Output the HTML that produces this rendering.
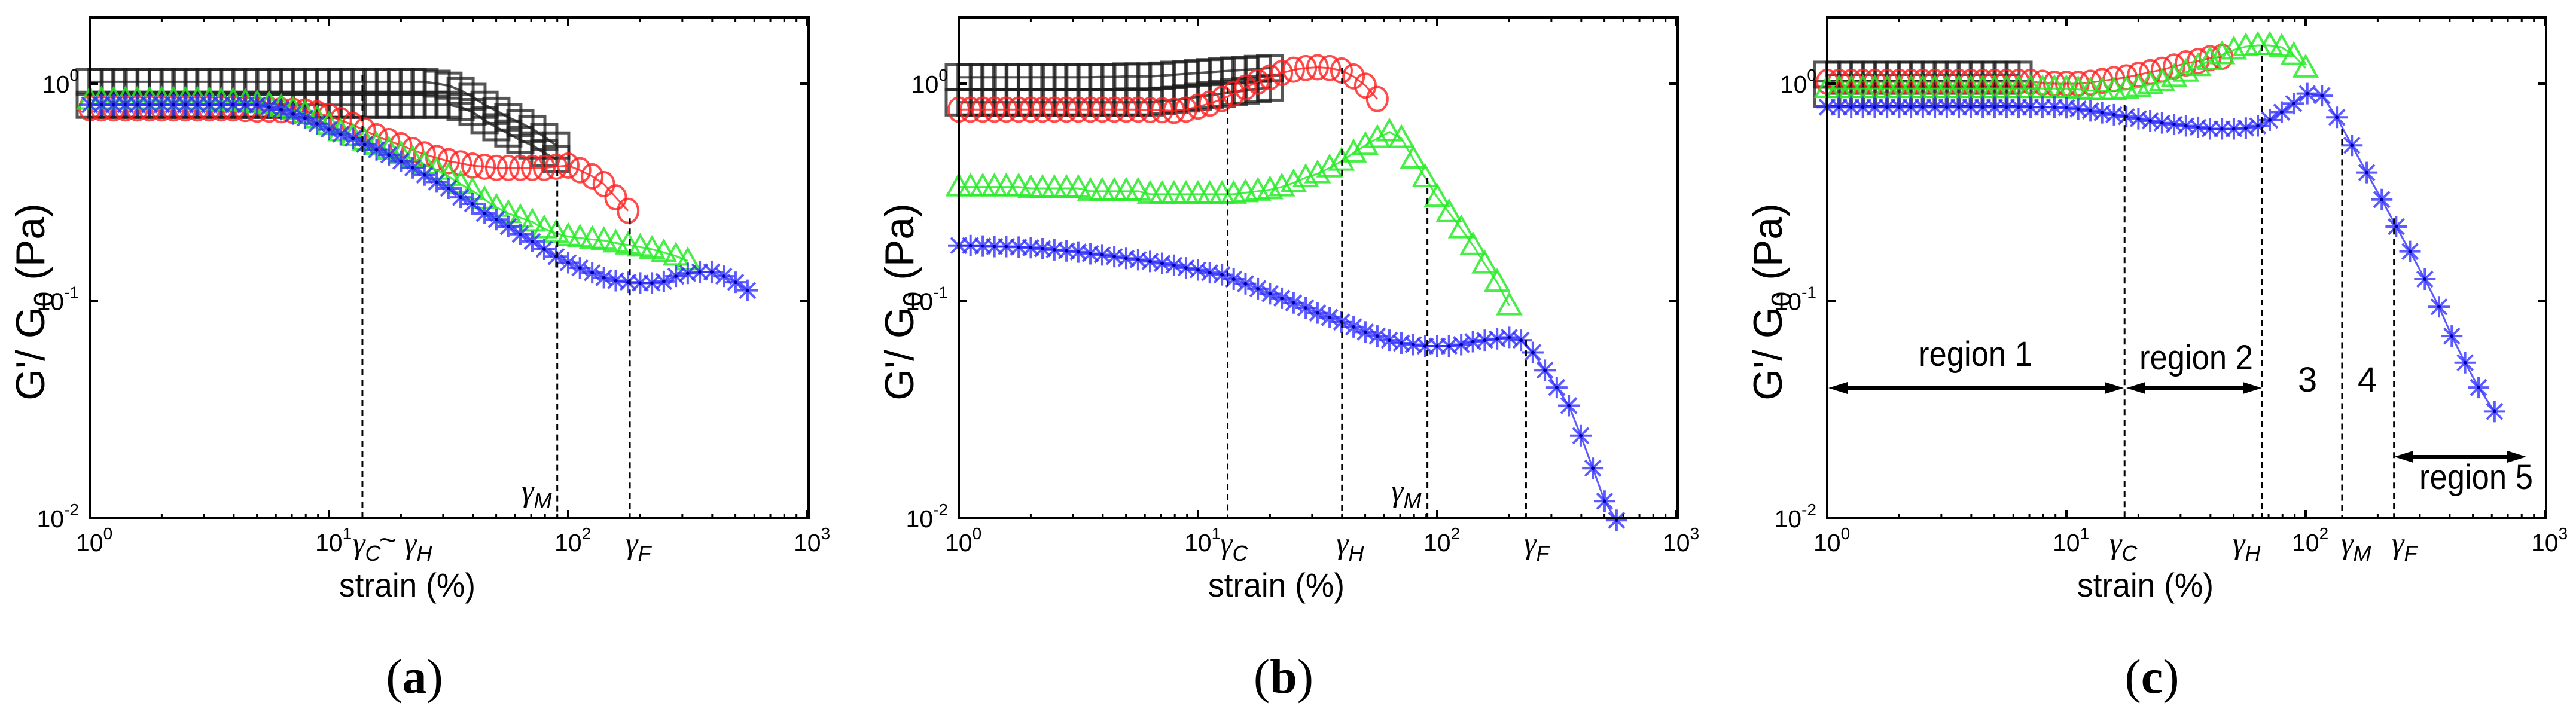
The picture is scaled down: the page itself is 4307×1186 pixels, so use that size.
<!DOCTYPE html>
<html><head><meta charset="utf-8"><title>G'/G0 vs strain</title>
<style>
html,body{margin:0;padding:0;background:#fff;}
svg{display:block;}
</style></head>
<body>
<svg id="fig" xmlns="http://www.w3.org/2000/svg" width="4307" height="1186" viewBox="0 0 4307 1186"></svg>
<script>
// ---------- data ----------
const strainGrid = [1.00,1.12,1.26,1.41,1.58,1.78,2.00,2.24,2.51,2.82,3.16,3.55,3.98,4.47,5.01,5.62,6.31,7.08,7.94,8.91,10.0,11.2,12.6,14.1,15.8,17.8,20.0,22.4,25.1,28.2,31.6,35.5,39.8,44.7,50.1,56.2,63.1,70.8,79.4,89.1,100,112,126,141,158,178,200,224,251,282,316,355,398,447,501,562,631];
const tickExponents = [0,1,2,3];
const yTickExponents = [-2,-1,0];

// panel (a)
const aBlackUpper = [1.02,1.02,1.02,1.02,1.02,1.02,1.02,1.02,1.02,1.02,1.02,1.02,1.02,1.02,1.02,1.02,1.02,1.02,1.02,1.02,1.02,1.02,1.02,1.02,1.02,1.02,1.02,1.02,1.02,1.0,0.98,0.93,0.87,0.80,0.75,0.70,0.66,0.62,0.57,0.52];
const aBlackLower = [0.80,0.80,0.80,0.80,0.80,0.80,0.80,0.80,0.80,0.80,0.80,0.80,0.80,0.80,0.80,0.80,0.80,0.80,0.80,0.80,0.80,0.80,0.80,0.80,0.80,0.80,0.80,0.80,0.80,0.80,0.80,0.78,0.74,0.68,0.63,0.59,0.55,0.52,0.48,0.45];
const aRed = [0.77,0.77,0.77,0.77,0.77,0.77,0.77,0.77,0.77,0.77,0.77,0.77,0.77,0.765,0.76,0.76,0.755,0.75,0.745,0.73,0.71,0.68,0.646,0.61,0.573,0.545,0.521,0.495,0.473,0.455,0.44,0.43,0.42,0.415,0.41,0.41,0.41,0.41,0.41,0.415,0.42,0.40,0.375,0.345,0.30,0.26];
const aGreen = [0.84,0.84,0.84,0.84,0.84,0.84,0.84,0.84,0.84,0.84,0.835,0.83,0.83,0.82,0.81,0.80,0.78,0.755,0.729,0.69,0.645,0.601,0.57,0.545,0.521,0.495,0.472,0.451,0.425,0.40,0.375,0.345,0.322,0.293,0.27,0.253,0.242,0.231,0.215,0.205,0.198,0.195,0.192,0.19,0.185,0.181,0.177,0.173,0.167,0.161,0.153];
const aBlue = [0.80,0.80,0.80,0.80,0.80,0.80,0.80,0.80,0.80,0.80,0.80,0.80,0.80,0.80,0.80,0.78,0.76,0.725,0.695,0.655,0.616,0.585,0.56,0.525,0.496,0.47,0.44,0.41,0.38,0.353,0.33,0.30,0.28,0.253,0.237,0.22,0.203,0.188,0.173,0.16,0.15,0.142,0.135,0.128,0.124,0.122,0.121,0.121,0.123,0.13,0.134,0.136,0.136,0.13,0.122,0.112];
const aMarkers = [13.8,90,181];
const aMarkerTops = [1.1,0.40,0.24];

// panel (b)
const bBlackUpper = [1.07,1.07,1.07,1.07,1.07,1.07,1.07,1.07,1.07,1.07,1.07,1.07,1.075,1.075,1.08,1.08,1.08,1.09,1.10,1.11,1.12,1.13,1.14,1.15,1.16,1.17,1.18];
const bBlackLower = [0.82,0.82,0.82,0.82,0.82,0.82,0.82,0.82,0.82,0.82,0.82,0.82,0.82,0.82,0.82,0.82,0.82,0.83,0.84,0.855,0.87,0.885,0.90,0.915,0.93,0.945,0.96];
const bRed = [0.76,0.76,0.76,0.76,0.76,0.76,0.76,0.76,0.76,0.76,0.76,0.76,0.76,0.76,0.76,0.76,0.757,0.755,0.75,0.76,0.785,0.81,0.85,0.90,0.96,1.02,1.07,1.12,1.16,1.18,1.19,1.18,1.15,1.08,0.98,0.85];
const bGreen = [0.335,0.335,0.335,0.335,0.335,0.335,0.33,0.33,0.33,0.33,0.33,0.32,0.32,0.32,0.32,0.32,0.31,0.31,0.31,0.31,0.31,0.31,0.31,0.31,0.315,0.32,0.325,0.335,0.35,0.37,0.385,0.41,0.44,0.48,0.52,0.56,0.60,0.56,0.45,0.37,0.30,0.255,0.215,0.18,0.148,0.122,0.095];
const bBlue = [0.18,0.18,0.179,0.178,0.178,0.177,0.176,0.174,0.172,0.17,0.168,0.165,0.163,0.16,0.157,0.155,0.152,0.149,0.146,0.142,0.139,0.135,0.132,0.126,0.12,0.114,0.108,0.103,0.098,0.093,0.088,0.084,0.08,0.076,0.072,0.069,0.066,0.064,0.063,0.062,0.062,0.062,0.063,0.065,0.066,0.067,0.068,0.066,0.058,0.048,0.04,0.033,0.024,0.017,0.012,0.0098];
const bMarkers = [13.3,40,91,235];
const bMarkerTops = [0.96,1.18,0.37,0.066];

// panel (c)
const cBlackUpper = [1.1,1.1,1.1,1.1,1.1,1.1,1.1,1.1,1.1,1.1,1.1,1.1,1.1,1.1,1.1,1.1,1.1];
const cBlackLower = [0.9,0.9,0.9,0.9,0.9,0.9,0.9,0.9,0.9,0.9,0.9,0.9,0.9,0.9,0.9,0.9,0.9];
const cRed = [1.02,1.02,1.02,1.02,1.02,1.02,1.02,1.02,1.02,1.02,1.02,1.02,1.02,1.02,1.02,1.02,1.02,1.02,1.01,1.0,1.0,1.0,1.01,1.03,1.05,1.07,1.1,1.13,1.16,1.2,1.24,1.27,1.31,1.33];
const cGreen = [0.95,0.95,0.95,0.95,0.95,0.95,0.95,0.95,0.95,0.95,0.95,0.95,0.95,0.95,0.95,0.95,0.95,0.95,0.95,0.95,0.95,0.94,0.93,0.93,0.93,0.94,0.96,0.99,1.02,1.07,1.13,1.2,1.28,1.36,1.43,1.48,1.5,1.5,1.47,1.35,1.18];
const cBlueStrain = [1.00,1.12,1.26,1.41,1.58,1.78,2.00,2.24,2.51,2.82,3.16,3.55,3.98,4.47,5.01,5.62,6.31,7.08,7.94,8.91,10.0,11.2,12.6,14.1,15.8,17.8,20.0,22.4,25.1,28.2,31.6,35.5,39.8,44.7,50.1,56.2,63.1,70.8,79.4,89.1,101.6,117,135,156,180,208,239,273,315,361,408,464,528,616];
const cBlue = [0.78,0.78,0.78,0.78,0.78,0.78,0.78,0.78,0.78,0.78,0.78,0.78,0.78,0.78,0.78,0.78,0.78,0.78,0.78,0.78,0.775,0.765,0.75,0.735,0.72,0.705,0.69,0.675,0.66,0.65,0.64,0.63,0.62,0.62,0.62,0.625,0.64,0.68,0.74,0.81,0.9,0.88,0.70,0.52,0.39,0.293,0.22,0.169,0.126,0.094,0.069,0.052,0.04,0.031];
const cMarkers = [17.5,65.6,142,234];
const cMarkerTops = [0.80,1.5,0.62,0.24];

// ---------- drawing ----------
const NS = 'http://www.w3.org/2000/svg';
const svg = document.getElementById('fig');
const TOP = 29, BOT = 867, W = 1202, DEC_X = 400, Y0 = 140, DEC_Y = 363.5;
const FONT = '"Liberation Sans", Arial, sans-serif';
const SERIF = '"Liberation Serif", "Times New Roman", serif';

function mk(tag, attrs, parent) {
  const e = document.createElementNS(NS, tag);
  for (const k in attrs) e.setAttribute(k, attrs[k]);
  (parent || svg).appendChild(e);
  return e;
}
function xScale(L) { return v => L + DEC_X * Math.log10(v); }
function yScale(v) { return Y0 - DEC_Y * Math.log10(v); }

const COLORS = { black: 'rgba(30,30,30,0.75)', red: 'rgba(255,30,30,0.8)', green: 'rgba(40,235,40,0.85)', blue: 'rgba(50,50,255,0.8)' };

function marker(g, type, cx, cy, color) {
  let m;
  if (type === 'square') {
    m = mk('rect', { x: cx - 21, y: cy - 21, width: 42, height: 42, fill: 'none', stroke: color, 'stroke-width': 5 }, g);
  } else if (type === 'circle') {
    m = mk('ellipse', { cx: cx, cy: cy, rx: 17, ry: 20, fill: 'none', stroke: color, 'stroke-width': 4 }, g);
  } else if (type === 'triangle') {
    m = mk('polygon', { points: `${cx},${cy - 20} ${cx - 19},${cy + 14} ${cx + 19},${cy + 14}`, fill: 'none', stroke: color, 'stroke-width': 4 }, g);
  } else {
    const r = 18, d = 13;
    m = mk('path', { d: `M${cx - r},${cy}H${cx + r}M${cx},${cy - r}V${cy + r}M${cx - d},${cy - d}L${cx + d},${cy + d}M${cx - d},${cy + d}L${cx + d},${cy - d}`, stroke: color, 'stroke-width': 4, fill: 'none' }, g);
    const dot = mk('circle', { cx: cx, cy: cy, r: 3, fill: '#0000aa' }, g);
    
    
  }
  
  
}

function series(panelG, name, xs, ys, type, color, px, lw) {
  const g = mk('g', {}, panelG);
  
  
  const n = ys.length;
  let d = '';
  for (let i = 0; i < n; i++) d += (i ? 'L' : 'M') + px(xs[i]).toFixed(1) + ',' + yScale(ys[i]).toFixed(1);
  const ln = mk('path', { d: d, fill: 'none', stroke: color, 'stroke-width': lw || 3 }, g);
  
  
  for (let i = 0; i < n; i++) marker(g, type, px(xs[i]), yScale(ys[i]), color);
}

function vline(panelG, px, xv, ytop) {
  const l = mk('line', { x1: px(xv), x2: px(xv), y1: yScale(ytop), y2: BOT, stroke: '#000', 'stroke-width': 3, 'stroke-dasharray': '10,7' }, panelG);
  
  
}

function gammaLabel(panelG, x, y, sub, name) {
  const t = mk('text', { x: x, y: y, 'font-family': SERIF, 'font-size': 52, 'font-style': 'italic' }, panelG);
  
  
  t.appendChild(document.createTextNode('γ'));
  const s = mk('tspan', { 'font-family': FONT, 'font-size': 36, 'font-style': 'italic', dy: 12 }, t);
  s.textContent = sub;
  return t;
}

function panel(L, id, letter, seriesList, markers, tops, xTitleX, letterX) {
  const px = xScale(L);
  const g = mk('g', {});
  
  
  const plot = mk('g', {}, g);
  
  
  seriesList.forEach(s => series(plot, s[0], s[1], s[2], s[3], COLORS[s[4]], px, s[5]));
  markers.forEach((m, i) => vline(g, px, m, tops[i]));
  const fr = mk('rect', { x: L, y: TOP, width: W, height: BOT - TOP, fill: 'none', stroke: '#000', 'stroke-width': 4 }, g);
  
  
  tickExponents.forEach(e => {
    const xv = Math.pow(10, e);
    const x = px(xv);
    [[BOT, -14], [TOP, 14]].forEach(([y0, dl]) => {
      const t = mk('line', { x1: x, x2: x, y1: y0, y2: y0 + dl, stroke: '#000', 'stroke-width': 4 }, g);
      
      
    });
    if (e < 3) {
      for (let k = 2; k <= 9; k++) {
        const xm = px(k * xv);
        [[BOT, -8], [TOP, 8]].forEach(([y0, dl]) => {
          const t = mk('line', { x1: xm, x2: xm, y1: y0, y2: y0 + dl, stroke: '#000', 'stroke-width': 3 }, g);
          
          
        });
      }
    }
    const lab = mk('text', { x: x - 23, y: 922, 'font-family': FONT, 'font-size': 41 }, g);
    
    
    lab.appendChild(document.createTextNode('10'));
    const sp = mk('tspan', { dy: -20, 'font-size': 28 }, lab);
    sp.textContent = String(e);
  });
  yTickExponents.forEach(e => {
    const y = yScale(Math.pow(10, e));
    [[L, 14], [L + W, -14]].forEach(([x0, dl]) => {
      const t = mk('line', { x1: x0, x2: x0 + dl, y1: y, y2: y, stroke: '#000', 'stroke-width': 4 }, g);
      
      
    });
    const lab = mk('text', { x: L - 18, y: y + 15, 'font-family': FONT, 'font-size': 41, 'text-anchor': 'end' }, g);
    
    
    lab.appendChild(document.createTextNode('10'));
    const sp = mk('tspan', { dy: -20, 'font-size': 28 }, lab);
    sp.textContent = String(e);
  });
  const xt = mk('text', { x: xTitleX, y: 998, 'font-family': FONT, 'font-size': 56, 'text-anchor': 'middle', textLength: 228, lengthAdjust: 'spacingAndGlyphs' }, g);
  
  
  xt.textContent = 'strain (%)';
  const yt = mk('text', { x: 0, y: 0, 'font-family': FONT, 'font-size': 68, 'text-anchor': 'middle', transform: `translate(${L - 76},505) rotate(-90)` }, g);
  
  
  yt.appendChild(document.createTextNode("G'/ G"));
  const ys = mk('tspan', { dy: 15, 'font-size': 46 }, yt);
  ys.textContent = '0';
  const yr = mk('tspan', { dy: -15 }, yt);
  yr.textContent = ' (Pa)';
  const pl = mk('text', { x: letterX, y: 1159, 'font-family': SERIF, 'font-size': 82, 'text-anchor': 'middle' }, g);
  
  
  pl.appendChild(document.createTextNode('('));
  const b = mk('tspan', { 'font-weight': 'bold' }, pl);
  b.textContent = letter;
  pl.appendChild(document.createTextNode(')'));
  return g;
}

const ga = panel(150, 'a', 'a', [
  ['series-black-upper', strainGrid, aBlackUpper, 'square', 'black', 4],
  ['series-black-lower', strainGrid, aBlackLower, 'square', 'black', 4],
  ['series-red', strainGrid, aRed, 'circle', 'red', 3],
  ['series-green', strainGrid, aGreen, 'triangle', 'green', 3],
  ['series-blue', strainGrid, aBlue, 'asterisk', 'blue', 3]
], aMarkers, aMarkerTops, 681, 693);
const gb = panel(1603, 'b', 'b', [
  ['series-black-upper', strainGrid, bBlackUpper, 'square', 'black', 4],
  ['series-black-lower', strainGrid, bBlackLower, 'square', 'black', 4],
  ['series-red', strainGrid, bRed, 'circle', 'red', 3],
  ['series-green', strainGrid, bGreen, 'triangle', 'green', 3],
  ['series-blue', strainGrid, bBlue, 'asterisk', 'blue', 3]
], bMarkers, bMarkerTops, 2134, 2146);
const gc = panel(3055, 'c', 'c', [
  ['series-black-upper', strainGrid, cBlackUpper, 'square', 'black', 4],
  ['series-black-lower', strainGrid, cBlackLower, 'square', 'black', 4],
  ['series-red', strainGrid, cRed, 'circle', 'red', 3],
  ['series-green', strainGrid, cGreen, 'triangle', 'green', 3],
  ['series-blue', cBlueStrain, cBlue, 'asterisk', 'blue', 3]
], cMarkers, cMarkerTops, 3587, 3598);

gammaLabel(ga, 590, 926, 'C', 'gamma-c-label');
const tl = mk('text', { x: 634, y: 920, 'font-family': FONT, 'font-size': 50 }, ga);


tl.textContent = '~';
gammaLabel(ga, 676, 926, 'H', 'gamma-h-label');
gammaLabel(ga, 872, 838, 'M', 'gamma-m-label');
gammaLabel(ga, 1046, 926, 'F', 'gamma-f-label');

gammaLabel(gb, 2040, 926, 'C', 'gamma-c-label');
gammaLabel(gb, 2234, 926, 'H', 'gamma-h-label');
gammaLabel(gb, 2326, 838, 'M', 'gamma-m-label');
gammaLabel(gb, 2548, 926, 'F', 'gamma-f-label');

gammaLabel(gc, 3527, 926, 'C', 'gamma-c-label');
gammaLabel(gc, 3733, 926, 'H', 'gamma-h-label');
gammaLabel(gc, 3914, 926, 'M', 'gamma-m-label');
gammaLabel(gc, 3999, 926, 'F', 'gamma-f-label');

function arrow(x1, x2, y, name) {
  const g = mk('g', {}, gc);
  
  
  const l = mk('line', { x1: x1 + 20, x2: x2 - 20, y1: y, y2: y, stroke: '#000', 'stroke-width': 6 }, g);
  
  
  const h1 = mk('polygon', { points: `${x1},${y} ${x1 + 32},${y - 10} ${x1 + 32},${y + 10}`, fill: '#000' }, g);
  
  
  const h2 = mk('polygon', { points: `${x2},${y} ${x2 - 32},${y - 10} ${x2 - 32},${y + 10}`, fill: '#000' }, g);
  
  
}
arrow(3057, 3551, 649, 'region-1-arrow');
arrow(3555, 3782, 649, 'region-2-arrow');
arrow(4003, 4224, 764, 'region-5-arrow');

function rlabel(x, y, txt, name, len) {
  const a = { x: x, y: y, 'font-family': FONT, 'font-size': 58, 'text-anchor': 'middle' };
  if (len) { a.textLength = len; a.lengthAdjust = 'spacingAndGlyphs'; }
  const t = mk('text', a, gc);
  
  
  t.textContent = txt;
}
rlabel(3303, 612, 'region 1', 'region-1-label', 190);
rlabel(3672, 618, 'region 2', 'region-2-label', 190);
rlabel(3858, 655, '3', 'region-3-label');
rlabel(3958, 655, '4', 'region-4-label');
rlabel(4140, 818, 'region 5', 'region-5-label', 190);
</script>
</body></html>
